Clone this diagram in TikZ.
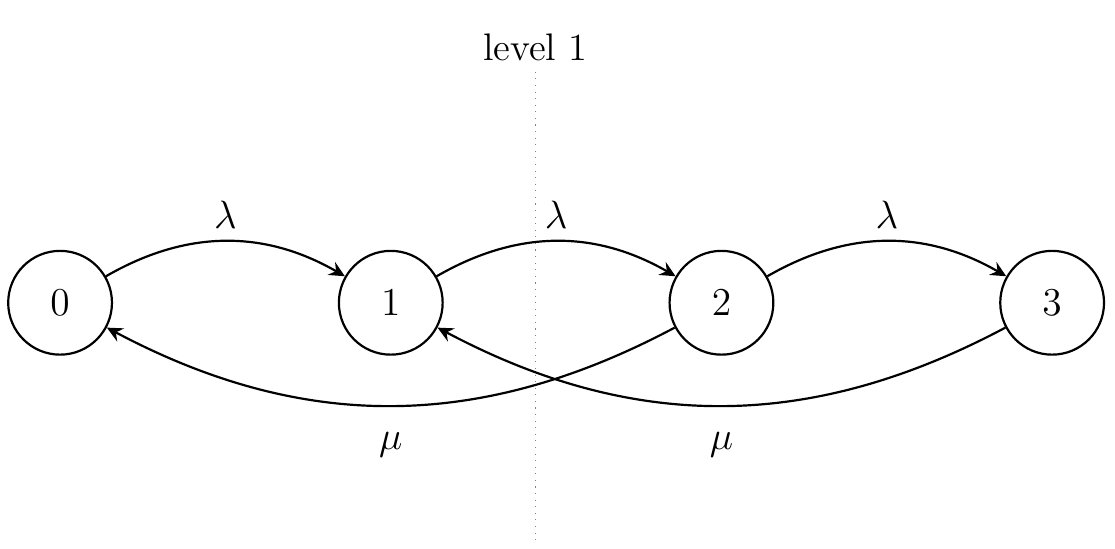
\documentclass[tikz,border=0pt]{standalone}
\usetikzlibrary{positioning,arrows.meta}
\tikzset{
    state/.style={
           circle,
           draw=black, thick,
           minimum size=1.33cm,
           inner sep=0pt,
           },
    trans/.style={-{Stealth[length=2.0mm,width=1.9mm,inset=0.7mm]}, thick},
}
\begin{document}
\begin{tikzpicture}[font=\fontsize{14}{17}\selectfont]
    \useasboundingbox (-0.77,-3.15) rectangle (13.52,3.88);
    % states of the chain
    \node[state] (n0) {$0$};
    \node[state, right=2.88cm of n0] (n1) {$1$};
    \node[state, right=2.88cm of n1] (n2) {$2$};
    \node[state, right=2.88cm of n2] (n3) {$3$};

    % level line
    \coordinate (ltop) at (6.09,2.96);
    \coordinate (lbot) at (6.09,-3.04);
    \draw[dotted, gray] (ltop) -- (lbot);
    \node[above=0.02cm of ltop] (llabel) {level 1};

    % arrivals and services
    \path
        (n0) edge[trans, bend left=30] node[above=1pt] {$\lambda$} (n1)
        (n1) edge[trans, bend left=30] node[above=1pt] {$\lambda$} (n2)
        (n2) edge[trans, bend left=30] node[above=1pt] {$\lambda$} (n3)
        (n2) edge[trans, bend left=28] node[below=6pt] {$\mu$} (n0)
        (n3) edge[trans, bend left=28] node[below=6pt] {$\mu$} (n1)
        ;
\end{tikzpicture}
\end{document}
